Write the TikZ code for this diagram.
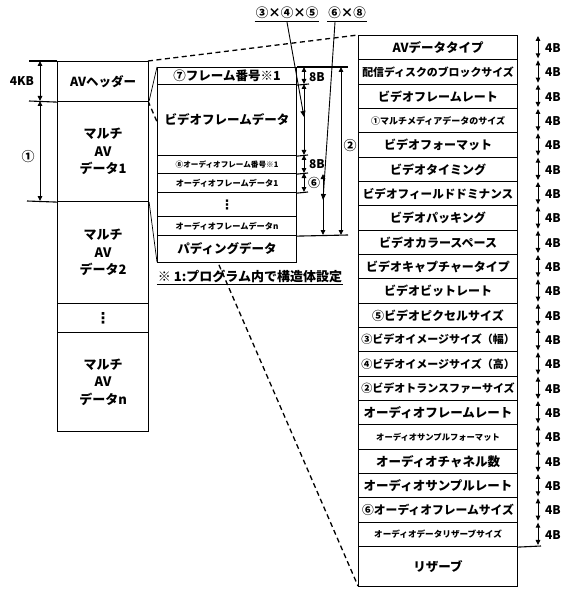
\documentclass[tikz,border=0pt]{standalone}
\usepackage{fontspec}
\setmainfont{Noto Sans CJK JP}
\newfontfamily\djv{DejaVu Sans}
\usetikzlibrary{arrows.meta}
\newcommand\jfs[1]{\fontsize{#1}{#1}\selectfont}
\newcommand\jfsb[2]{\fontsize{#1}{#2}\selectfont}
\begin{document}
\begin{tikzpicture}[x=1pt,y=-1pt,
  box/.style={draw, line width=1.1pt, fill=white, inner sep=0pt, anchor=north west, font=\bfseries, align=center},
  lbox/.style={box, minimum width=91pt},
  mbox/.style={box, minimum width=139pt},
  rbox/.style={box, minimum width=159pt, minimum height=24.33pt},
  dim/.style={line width=0.9pt, {Triangle[length=5pt,width=4.5pt]}-{Triangle[length=5pt,width=4.5pt]}},
  lead/.style={line width=0.9pt, -{Triangle[length=6pt,width=5pt]}},
  ext/.style={line width=1.1pt},
  dsh/.style={line width=1.3pt, dash pattern=on 5pt off 3.5pt},
  conn/.style={line width=0.7pt},
  lab/.style={font=\bfseries\jfs{12}, inner sep=1pt},
  uline/.style={line width=1.1pt}
]
\useasboundingbox (0,0) rectangle (566,596);

% dashed expansion lines (behind boxes)
\coordinate (hdrTR) at (148,61);
\coordinate (hdrBR) at (148,101);
\coordinate (rTL) at (358,35);
\coordinate (rBL) at (358,586);
\draw[dsh] (hdrTR) -- (rTL);
\draw[dsh] (hdrBR) -- (rBL);

% left column
\node[lbox, minimum height=40pt, font=\bfseries\jfs{12.5}] (hdr) at (57,61) {AVヘッダー};
\node[lbox, minimum height=100pt, font=\bfseries\jfsb{13}{17.5}] (d1) at (57,101) {マルチ\\AV\\データ1};
\node[lbox, minimum height=102pt, font=\bfseries\jfsb{13}{17.5}] (d2) at (57,201) {マルチ\\AV\\データ2};
\node[lbox, minimum height=29pt, font=\djv\bfseries\jfs{15}] (dv) at (57,303) {⋮};
\node[lbox, minimum height=99pt, font=\bfseries\jfsb{13}{17.5}] (dn) at (57,332) {マルチ\\AV\\データn};

% connectors data1 -> middle column
\coordinate (mTL) at (157,67);
\coordinate (mBL) at (157,262);
\draw[conn] (d1.north east) -- (mTL);
\draw[conn] (d1.south east) -- (mBL);

% middle column
\node[mbox, minimum height=17pt, font=\bfseries\jfs{12.5}] (m1) at (157,67) {⑦フレーム番号※1};
\node[mbox, minimum height=71pt, font=\bfseries\jfs{12.5}] (m2) at (157,84) {ビデオフレームデータ};
\node[mbox, minimum height=18pt, font=\bfseries\jfs{7.6}] (m3) at (157,155) {⑧オーディオフレーム番号※1};
\node[mbox, minimum height=19pt, font=\bfseries\jfs{8.2}] (m4) at (157,173) {オーディオフレームデータ1};
\node[mbox, minimum height=24pt, font=\djv\bfseries\jfs{13}] (m5) at (157,192) {⋮};
\node[mbox, minimum height=19pt, font=\bfseries\jfs{8.2}] (m6) at (157,216) {オーディオフレームデータn};
\node[mbox, minimum height=27pt, font=\bfseries\jfs{12.5}] (m7) at (157,235) {パディングデータ};

\node[font=\bfseries\jfs{13}, inner sep=1pt] (note) at (250,276) {※ 1:プログラム内で構造体設定};
\draw[uline] ([yshift=-1pt]note.south west) -- ([yshift=-1pt]note.south east);

% right column
\foreach \t/\s [count=\i] in {
  AVデータタイプ/12.5,
  配信ディスクのブロックサイズ/10.9,
  ビデオフレームレート/12,
  ①マルチメディアデータのサイズ/9,
  ビデオフォーマット/12,
  ビデオタイミング/12,
  ビデオフィールドドミナンス/11.6,
  ビデオパッキング/12,
  ビデオカラースペース/12,
  ビデオキャプチャータイプ/12,
  ビデオビットレート/12,
  ⑤ビデオピクセルサイズ/12,
  ③ビデオイメージサイズ（幅）/11,
  ④ビデオイメージサイズ（高）/11,
  ②ビデオトランスファーサイズ/11,
  オーディオフレームレート/12.5,
  オーディオサンプルフォーマット/8.3,
  オーディオチャネル数/12.5,
  オーディオサンプルレート/12.5,
  ⑥オーディオフレームサイズ/11.8,
  オーディオデータリザーブサイズ/8.6}
{
  \node[rbox, font=\bfseries\jfs{\s}] (r\i) at (358,{35+(\i-1)*24.333}) {\t};
  \draw[dim] (538,{35+(\i-1)*24.333+1}) -- (538,{35+\i*24.333-1});
  \node[lab] at (553,{35+(\i-0.5)*24.333+1}) {4B};
}
\node[box, minimum width=159pt, minimum height=40pt, font=\bfseries\jfs{12.5}] (r22) at (358,546) {リザーブ};
\coordinate (rExt) at (541,546);
\draw[ext] (r21.south east) -- (rExt);

% left dimensions
\coordinate (lx0) at (29,61);
\coordinate (lx1) at (29,101);
\coordinate (lx2) at (27,201);
\draw[ext] (lx0) -- (hdr.north west);
\draw[ext] (lx1) -- (hdr.south west);
\draw[ext] (lx2) -- (d1.south west);
\draw[dim] (40,61) -- (40,101);
\draw[dim] (40,101) -- (40,201);
\node[lab] at (22,81) {4KB};
\node[lab, font=\bfseries\jfs{13}] at (28,157) {①};

% middle dimensions
\coordinate (e1) at (348,67);
\coordinate (e2) at (309,84);
\coordinate (e3) at (308,155);
\coordinate (e4) at (308,173);
\coordinate (e5) at (308,192);
\coordinate (e6) at (348,235);
\draw[ext] (m1.north east) -- (e1);
\draw[ext] (m1.south east) -- (e2);
\draw[ext] (m2.south east) -- (e3);
\draw[ext] (m3.south east) -- (e4);
\draw[ext] (m4.south east) -- (e5);
\draw[ext] (m6.south east) -- (e6);
\draw[dim] (304,67) -- (304,84);
\draw[dim] (304,84) -- (304,155);
\draw[dim] (304,155) -- (304,173);
\draw[dim] (304,173) -- (304,192);
\draw[dim] (323,174) -- (323,235);
\draw[dim] (341,67) -- (341,235);
\node[lab] at (317,77) {8B};
\node[lab] at (317,164) {8B};
\node[lab] at (314,183) {⑥};
\node[lab, font=\bfseries\jfs{13}] at (350,146) {②};

% top formula labels and leaders
\node[lab, font=\bfseries\jfs{12.5}] (f1) at (287,13) {③×④×⑤};
\node[lab, font=\bfseries\jfs{12.5}] (f2) at (347,13) {⑥×⑧};
\draw[uline] ([yshift=-1pt]f1.south west) -- ([yshift=-1pt]f1.south east);
\draw[uline] ([yshift=-1pt]f2.south west) -- ([yshift=-1pt]f2.south east);
\coordinate (t1) at (304,117);
\coordinate (t2) at (323,200);
\draw[lead] ([yshift=-2pt]f1.south) -- (t1);
\draw[lead] ([xshift=-12pt,yshift=-2pt]f2.south) -- (t2);
\end{tikzpicture}
\end{document}
